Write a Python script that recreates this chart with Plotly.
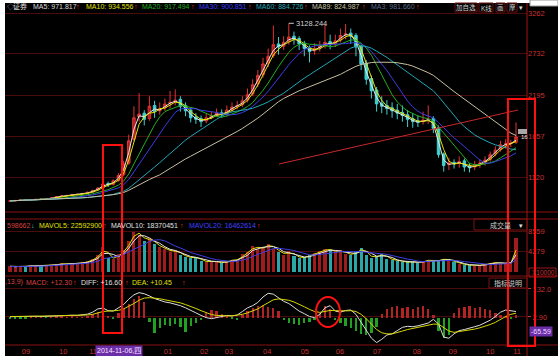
import plotly.graph_objects as go
import pandas as pd

# ---------------- data (each bar = about 3 trading sessions) ----------------
opens = [815,820,826,832,830,836,842,840,848,862,
         876,888,893,898,908,918,935,960,990,1045,
         1035,1085,1160,1310,1620,1910,1960,1890,2060,1990,
         2030,2090,2110,2140,2060,2000,1910,1890,1860,1905,
         1935,1965,1945,2005,2050,2070,2130,2210,2340,2460,
         2610,2710,2860,2830,2890,2960,2930,2870,2810,2770,
         2810,2840,2890,2860,2910,2980,3000,2970,2830,2610,
         2410,2260,2090,2060,2030,2000,1970,1940,1890,1860,
         1850,1875,1890,1770,1430,1290,1320,1310,1340,1270,
         1260,1300,1320,1360,1430,1490,1555,1565,1580]
highs = [828,830,836,838,840,846,848,850,868,882,
         895,898,910,912,924,940,965,1000,1150,1070,
         1100,1180,1340,1680,2050,2220,2000,2180,2120,2100,
         2150,2250,2270,2180,2100,2030,1960,1930,1950,1980,
         2020,2010,2060,2100,2120,2180,2280,2400,2520,2680,
         2800,3100,2950,2960,3128.244,3020,2960,2900,2840,2870,
         2900,3110,2980,2980,3060,3120,3060,3000,2850,2650,
         2450,2300,2180,2130,2100,2080,2060,2000,1960,1930,
         1980,2060,1920,1800,1450,1380,1360,1400,1370,1310,
         1340,1360,1400,1460,1530,1600,1620,1610,1840]
lows = [808,812,820,820,825,830,830,835,842,855,
        868,878,885,890,900,910,925,950,980,1000,
        1020,1070,1140,1290,1600,1850,1800,1860,1900,1940,
        1990,2020,2060,1980,1920,1840,1820,1780,1830,1880,
        1910,1900,1920,1980,2010,2040,2100,2180,2300,2420,
        2560,2680,2720,2780,2850,2850,2780,2700,2620,2720,
        2760,2800,2790,2820,2880,2920,2860,2700,2520,2330,
        2150,1980,1960,1940,1900,1880,1850,1780,1770,1780,
        1810,1820,1700,1380,1200,1220,1240,1250,1200,1190,
        1220,1250,1280,1330,1400,1460,1500,1520,1560]
closes = [820,825,830,828,835,840,838,845,860,875,
          885,890,900,905,915,930,955,985,1040,1030,
          1080,1150,1300,1600,1900,1950,1880,2050,1980,2020,
          2080,2100,2130,2050,1990,1900,1880,1850,1900,1930,
          1960,1940,2000,2040,2060,2120,2200,2330,2450,2600,
          2700,2850,2820,2880,2950,2920,2860,2800,2760,2800,
          2830,2880,2850,2900,2970,2990,2960,2820,2600,2400,
          2250,2080,2050,2020,1990,1960,1930,1880,1850,1840,
          1870,1880,1760,1420,1280,1310,1300,1330,1260,1250,
          1290,1310,1350,1420,1480,1550,1560,1570,1650]
volumes = [1200,1000,1300,1100,1400,1200,1300,1500,1400,1600,
           1800,1500,1900,1700,2000,2200,2800,3500,5200,3000,
           2800,3800,4600,6500,8400,7800,6500,7000,5800,5200,
           4800,4200,4500,3600,3200,2900,3100,2300,2100,2400,
           2000,1900,2300,2600,2500,3800,4200,5500,4800,5200,
           5800,4900,4200,3600,4300,3400,2900,3100,3600,3900,
           4300,4800,4600,4100,4500,3800,3600,4200,5100,3600,
           3000,3300,3800,2800,2500,2300,2100,2000,2200,1900,
           2300,2600,2200,2500,2800,2400,2100,1700,1500,1400,
           1300,1500,1600,1900,2000,1800,1700,2000,7100]
diff_vals = [4,5,5,4,5,6,5,6,8,10,
             11,10,11,10,12,16,25,40,44,32,
             30,45,60,85,105,115,110,100,88,80,
             72,68,62,55,45,35,22,10,0,-5,
             0,5,10,8,12,28,45,55,70,95,
             112,108,90,75,65,48,30,18,5,0,
             15,45,55,30,25,33,35,15,-20,-60,
             -95,-115,-100,-80,-75,-60,-45,-40,-42,-38,
             -30,-25,-8,-30,-90,-95,-75,-60,-55,-50,
             -42,-35,-25,-12,5,25,35,32,28]
dea_vals = [5,5,5,5,5,5,5,6,7,8,
            9,9,10,10,11,12,15,22,28,30,
            30,33,40,52,65,80,90,92,90,87,
            82,78,73,68,60,52,42,32,22,14,
            10,8,8,8,10,15,22,30,40,55,
            70,82,86,84,80,72,62,50,38,28,
            24,28,33,32,30,31,32,28,15,-5,
            -30,-55,-70,-75,-75,-70,-62,-55,-50,-46,
            -42,-37,-30,-30,-45,-62,-68,-65,-62,-58,
            -53,-47,-40,-32,-22,-8,5,15,20]
macd_hist = [-4,-5,-3,-2,1,2,1,-1,2,3,
             4,2,3,1,2,6,15,25,30,5,
             -3,20,40,65,85,100,70,-20,-70,-50,
             -35,-40,-30,-45,-65,-40,-25,-10,20,35,
             30,15,5,-5,-10,10,30,45,55,58,
             50,45,30,-10,-25,-30,-35,-25,-20,-10,
             20,55,40,-10,-25,-40,-50,-60,-75,-80,
             -70,-45,15,40,50,55,45,50,40,48,
             52,40,10,-60,-95,-80,20,45,50,55,
             45,50,40,35,20,12,8,-8,10]

ma_names = ["MA5", "MA10", "MA20", "MA30", "MA60", "MA89"]
ma_windows = [2, 3, 7, 10, 20, 30]          # in 3-session bars
ma_colors = ["#e6e6e6", "#e2e200", "#22b022", "#3c3ce6", "#22a6b8", "#c8c0a0"]
mavol_windows = [2, 3, 7]
mavol_colors = ["#e2e200", "#e6e6e6", "#3c3ce6"]

month_pos = [3.1, 10.3, 16.1, 30.6, 37.6, 42.4, 49.8, 57.1, 63.9, 71.1, 78.8, 85.8, 93.0, 98.2]
month_labels = ["09", "10", "11", "01", "02", "03", "04", "05", "06", "07", "08", "09", "10", "11"]
price_ticks = [1120, 1657, 2195, 2732, 3262]
vol_ticks = [4279, 8559]
macd_ticks = [2.90, 132.0]
macd_ticktext = ["2.90", "132.0"]
trend_x = [52.1, 98.4]
trend_y = [1299, 2001]
peak_index = 54
peak_value = 3128.244

# ---------------- figure ----------------
W, H = 558, 356
FONT = "Liberation Sans, Noto Sans CJK SC"
RED_T = "#c83030"


def pxx(x):
    return x / W


def pyy(y):
    return 1 - y / H


idx = list(range(len(closes)))
close_s = pd.Series(closes, dtype=float)
vol_s = pd.Series(volumes, dtype=float)

fig = go.Figure()

fig.add_trace(go.Candlestick(
    x=idx, open=opens, high=highs, low=lows, close=closes,
    increasing=dict(line=dict(color="#e03434", width=1), fillcolor="#a81e1e"),
    decreasing=dict(line=dict(color="#40d0d0", width=1), fillcolor="#40d0d0"),
    whiskerwidth=0, xaxis="x", yaxis="y", showlegend=False, hoverinfo="skip"))

for name, w, c in zip(ma_names, ma_windows, ma_colors):
    fig.add_trace(go.Scatter(x=idx, y=close_s.rolling(w, min_periods=1).mean(),
                             mode="lines", line=dict(color=c, width=1),
                             xaxis="x", yaxis="y", showlegend=False, hoverinfo="skip"))

fig.add_trace(go.Scatter(x=trend_x, y=trend_y, mode="lines",
                         line=dict(color="#c82828", width=1),
                         xaxis="x", yaxis="y", showlegend=False, hoverinfo="skip"))

vol_colors = ["#a01c1c" if c >= o else "#2aa8a8" for o, c in zip(opens, closes)]
fig.add_trace(go.Bar(x=idx, y=volumes, marker=dict(color=vol_colors, line=dict(width=0)),
                     width=0.6, xaxis="x", yaxis="y2", showlegend=False, hoverinfo="skip"))
for w, c in zip(mavol_windows, mavol_colors):
    fig.add_trace(go.Scatter(x=idx, y=vol_s.rolling(w, min_periods=1).mean(),
                             mode="lines", line=dict(color=c, width=1),
                             xaxis="x", yaxis="y2", showlegend=False, hoverinfo="skip"))

hist_colors = ["#b02424" if v >= 0 else "#22a022" for v in macd_hist]
fig.add_trace(go.Bar(x=idx, y=macd_hist, marker=dict(color=hist_colors, line=dict(width=0)),
                     width=0.45, xaxis="x", yaxis="y3", showlegend=False, hoverinfo="skip"))
fig.add_trace(go.Scatter(x=idx, y=diff_vals, mode="lines", line=dict(color="#dcdcdc", width=1),
                         xaxis="x", yaxis="y3", showlegend=False, hoverinfo="skip"))
fig.add_trace(go.Scatter(x=idx, y=dea_vals, mode="lines", line=dict(color="#d8d800", width=1),
                         xaxis="x", yaxis="y3", showlegend=False, hoverinfo="skip"))

GRID = "#4a0c0c"
axis_font = dict(family=FONT, size=7.5, color=RED_T)

fig.update_layout(
    width=W, height=H, margin=dict(l=0, r=0, t=0, b=0),
    paper_bgcolor="#000000", plot_bgcolor="#000000",
    bargap=0, barmode="overlay",
    xaxis=dict(domain=[pxx(5), pxx(527)], range=[-0.97, 100.13], anchor="y3",
               tickvals=month_pos, ticktext=month_labels, tickfont=axis_font,
               showgrid=False, zeroline=False, showline=False, ticks="",
               rangeslider=dict(visible=False), fixedrange=True),
    yaxis=dict(domain=[pyy(212), pyy(9)], range=[675, 3314], side="right", anchor="x",
               tickvals=price_ticks, tickfont=axis_font, showgrid=True, gridcolor=GRID,
               gridwidth=1, zeroline=False, showline=False, ticks=""),
    yaxis2=dict(domain=[pyy(276), pyy(219)], range=[-835, 11066], side="right", anchor="x",
                tickvals=vol_ticks, tickfont=axis_font, showgrid=True, gridcolor=GRID,
                zeroline=False, showline=False, ticks=""),
    yaxis3=dict(domain=[pyy(345), pyy(283)], range=[-126.3, 159.5], side="right", anchor="x",
                tickvals=macd_ticks, ticktext=macd_ticktext, tickfont=axis_font,
                showgrid=True, gridcolor=GRID, zeroline=False, showline=False,
                ticks="outside", ticklen=3, tickcolor=RED_T),
)

shapes = []


def hline(y, x0=5, x1=558, color="#8a1010", width=1):
    shapes.append(dict(type="line", xref="paper", yref="paper", x0=pxx(x0), x1=pxx(x1),
                       y0=pyy(y), y1=pyy(y), line=dict(color=color, width=width)))


def rect(x0, y0, x1, y1, line=None, fill=None, kind="rect"):
    d = dict(type=kind, xref="paper", yref="paper", x0=pxx(x0), x1=pxx(x1),
             y0=pyy(y1), y1=pyy(y0), line=line or dict(width=0))
    if fill:
        d["fillcolor"] = fill
    shapes.append(d)


hline(212)
hline(219)
hline(276)
hline(345)
shapes.append(dict(type="line", xref="paper", yref="paper", x0=pxx(527), x1=pxx(527),
                   y0=0, y1=pyy(3), line=dict(color="#a01414", width=1)))
# white margins of the screenshot
rect(0, 0, 558, 3, fill="#ffffff")
rect(0, 0, 5, 356, fill="#ffffff")
rect(530, 0, 558, 6, fill="#ffffff", line=dict(color="#9a9a9a", width=1))
# small buttons / boxes
rect(474, 219, 527, 230, line=dict(color="#7a1212", width=1))
rect(489, 278, 527, 288, line=dict(color="#7a1212", width=1))
rect(529, 268, 556, 277, line=dict(color="#a01414", width=1))
rect(518, 129, 527, 134, fill="#a8a8a8")
# hand-drawn red highlight boxes and circle
red = dict(color="#ff1010", width=2)
rect(103, 145, 122, 333, line=red)
rect(508, 99, 535, 346, line=red)
rect(316, 297, 340, 327, line=red, kind="circle")

annotations = []


def label(text, x, y, color, size=7, anchor="left", **kw):
    annotations.append(dict(text=text, x=pxx(x), y=pyy(y), xref="paper", yref="paper",
                            xanchor=anchor, yanchor="middle", showarrow=False,
                            font=dict(size=size, color=color, family=FONT), **kw))


ty = 6
label("◇", 5, ty, "#bbbbbb")
label("证券", 11, ty, "#e0e0e0")
label("MA5: 971.817", 31, ty, "#d8d8d8")
label("↑", 74, ty, "#ff3030")
label("MA10: 934.556", 84, ty, "#e0e000")
label("↑", 132, ty, "#ff3030")
label("MA20: 917.494", 140, ty, "#20b020")
label("↑", 189, ty, "#ff3030")
label("MA30: 900.851", 197, ty, "#3c3cff")
label("↑", 246, ty, "#ff3030")
label("MA60: 884.726", 254, ty, "#22a6b8")
label("↑", 302, ty, "#ff3030")
label("MA89: 824.987", 310, ty, "#c8c0a0")
label("↑", 360, ty, "#ff3030")
label("MA3: 981.660", 369, ty, "#5a6a8a")
label("↑", 414, ty, "#ff3030")

for t, x0, x1 in [("加自选", 455, 477), ("K线", 479, 493), ("画", 496, 505), ("摩", 507, 517)]:
    rect(x0, 3, x1, 12, line=dict(color="#6a1010", width=1))
    label(t, (x0 + x1) / 2, 7.5, "#cfcfcf", size=6.5, anchor="center")
label("▾", 521, 7.5, "#e0e0e0", size=7, anchor="center")

vy = 225
label("598662", 5, vy, "#d84040")
label("↓", 29, vy, "#40d0d0")
label("MAVOL5: 22592900", 37, vy, "#e0e000")
label("↑", 101, vy, "#ff3030")
label("MAVOL10: 18370451", 109, vy, "#e0e0e0")
label("↑", 178, vy, "#ff3030")
label("MAVOL20: 16462614", 187, vy, "#4040ff")
label("↑", 255, vy, "#ff3030")
label("成交量", 500, 225, "#cfcfcf", anchor="center")
label("▾", 521, 225, "#e0e0e0", anchor="center")

my = 282
label(",13,9)", 3, my, "#d84040")
label("MACD: +12.30", 24, my, "#d84040")
label("↑", 71, my, "#ff3030")
label("DIFF: +16.60", 79, my, "#e0e0e0")
label("↑", 123, my, "#ff3030")
label("DEA: +10.45", 130, my, "#e0e000")
label("↑", 180, my, "#ff3030")
label("指标说明", 508, 283, "#cfcfcf", anchor="center")

label("X10000", 530, 272.5, RED_T, anchor="left", size=6.5)
label("-65.59", 529, 331, "#f0d8ff", anchor="left", size=7, bgcolor="#6a2fa8")
label("2014-11-06,四", 119, 350.5, "#ffe0ff", anchor="center", size=7, bgcolor="#6a2fa8")
label("16", 519, 137, "#e8e8e8", size=6)

annotations.append(dict(x=peak_index, y=peak_value, xref="x", yref="y",
                        text=f"{peak_value:.3f}", showarrow=True, arrowhead=0,
                        arrowwidth=1, arrowcolor="#c8c8c8", ax=5, ay=0,
                        xanchor="left", yanchor="middle",
                        font=dict(size=7.5, color="#d0d0d0", family=FONT)))

fig.update_layout(shapes=shapes, annotations=annotations)
fig.write_html("out.html", config={"displayModeBar": False})

# remove the browser's default page margin so the chart sits at (0, 0)
with open("out.html", "r", encoding="utf-8") as f:
    page = f.read()
page = page.replace("<head>", "<head><style>html,body{margin:0;padding:0;overflow:hidden;background:#000}</style>", 1)
with open("out.html", "w", encoding="utf-8") as f:
    f.write(page)
